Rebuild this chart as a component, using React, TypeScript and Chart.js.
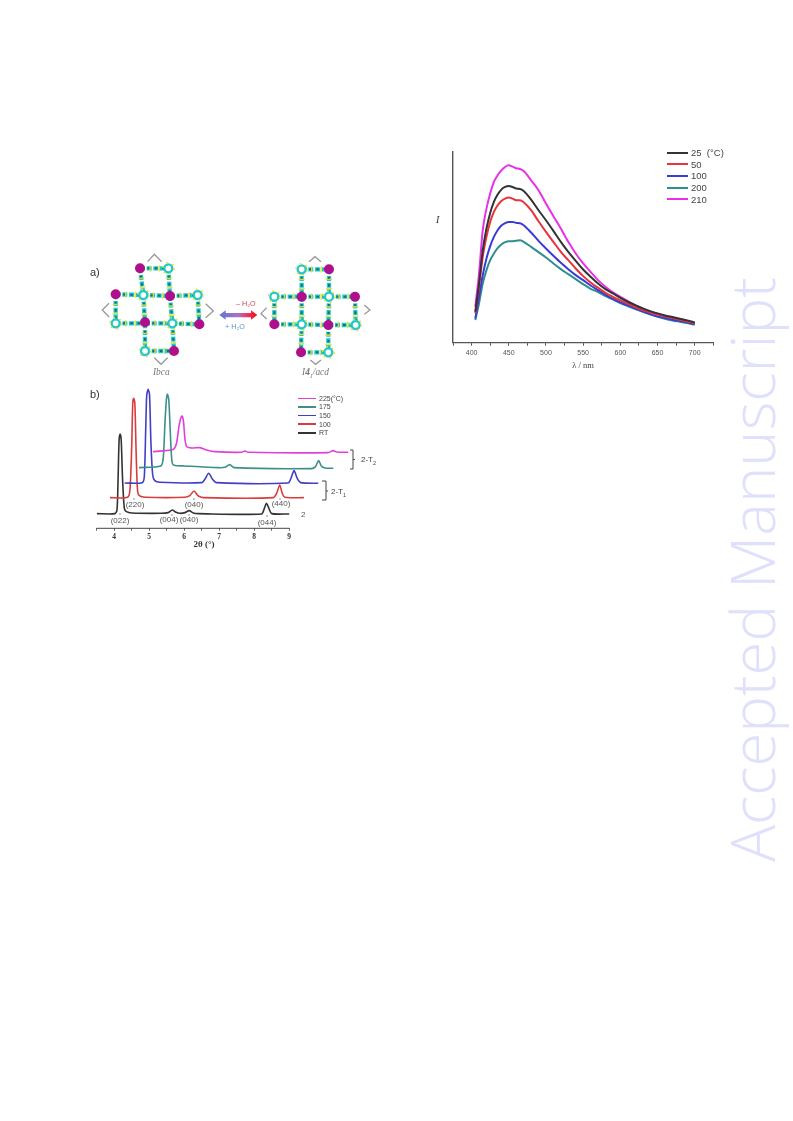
import React, { useEffect, useRef } from "react";
import { Chart, registerables } from "chart.js";

Chart.register(...registerables);

// ---------- Emission spectra (upper right panel) ----------
const wavelengths = [405, 410, 415, 420, 425, 430, 435, 440, 445, 450, 455, 460, 465, 470, 480, 490, 500, 510, 520, 530, 540, 550, 560, 570, 580, 590, 600, 610, 620, 630, 640, 650, 660, 670, 680, 690, 700];
const i25 = [93, 178, 278, 343, 390, 423, 445, 460, 468, 471, 468, 463, 462, 456, 430, 398, 368, 336, 303, 273, 246, 220, 198, 178, 161, 148, 135, 123, 113, 103, 95, 88, 82, 77, 72, 67, 61];
const i50 = [88, 168, 258, 318, 363, 393, 413, 426, 433, 436, 433, 428, 428, 422, 398, 365, 333, 303, 273, 248, 223, 200, 181, 165, 150, 138, 127, 117, 107, 98, 91, 85, 79, 74, 69, 64, 59];
const i100 = [73, 138, 203, 253, 290, 318, 338, 352, 359, 363, 363, 360, 359, 353, 331, 306, 283, 261, 240, 221, 203, 188, 172, 158, 144, 132, 121, 112, 103, 94, 86, 79, 74, 69, 65, 61, 56];
const i200 = [68, 118, 178, 218, 248, 268, 284, 295, 302, 305, 305, 306, 308, 303, 288, 272, 256, 238, 221, 206, 191, 176, 162, 152, 140, 130, 119, 110, 101, 93, 85, 78, 72, 67, 63, 59, 54];
const i210 = [108, 208, 338, 403, 448, 483, 503, 518, 528, 533, 529, 524, 522, 516, 488, 458, 418, 380, 343, 303, 268, 238, 213, 188, 168, 151, 138, 125, 113, 103, 94, 87, 80, 75, 70, 65, 59];
const emissionLabels = ["25  (°C)", "50", "100", "200", "210"];
const emissionColors = ["#333333", "#e8333a", "#3a3ad8", "#2f8f8f", "#e830e8"];
const emissionSeries = [i25, i50, i100, i200, i210];

// ---------- XRD patterns (panel b) ----------
const rtX = [3.5, 4.02, 4.08, 4.11, 4.14, 4.17, 4.2, 4.24, 4.29, 4.35, 4.5, 5.35, 5.54, 5.66, 5.75, 5.88, 6.02, 6.14, 6.26, 6.4, 8.21, 8.29, 8.35, 8.42, 8.5, 9.0];
const rtY = [44, 44, 55, 145, 265, 283, 265, 145, 60, 50, 46, 45, 47, 55, 49, 45, 47, 53, 46, 44, 43, 60, 75, 60, 44, 43];
const t100X = [3.88, 4.38, 4.45, 4.5, 4.53, 4.56, 4.59, 4.63, 4.67, 4.73, 4.88, 6.02, 6.16, 6.28, 6.4, 6.54, 8.54, 8.64, 8.73, 8.8, 8.88, 9.42];
const t100Y = [92, 93, 115, 245, 375, 390, 375, 215, 110, 97, 93, 93, 98, 112, 97, 92, 92, 105, 130, 105, 93, 92];
const t150X = [4.3, 4.8, 4.86, 4.9, 4.93, 4.97, 5.01, 5.05, 5.1, 5.16, 5.3, 6.5, 6.59, 6.7, 6.81, 6.92, 8.97, 9.05, 9.14, 9.23, 9.33, 9.83];
const t150Y = [136, 137, 155, 295, 400, 417, 400, 255, 160, 143, 138, 137, 147, 165, 147, 137, 136, 150, 173, 150, 137, 135];
const t175X = [4.71, 5.33, 5.4, 5.45, 5.49, 5.52, 5.56, 5.6, 5.65, 5.71, 6.02, 6.97, 7.16, 7.3, 7.43, 9.64, 9.75, 9.84, 9.92, 10.02, 10.26];
const t175Y = [182, 187, 210, 315, 385, 403, 385, 295, 200, 189, 187, 182, 183, 191, 182, 179, 185, 203, 187, 181, 180];
const t225X = [5.11, 5.45, 5.69, 5.78, 5.85, 5.9, 5.94, 5.98, 6.02, 6.07, 6.21, 6.45, 6.64, 6.88, 7.64, 7.73, 7.83, 10.11, 10.26, 10.35, 10.69];
const t225Y = [230, 233, 237, 255, 305, 330, 337, 320, 270, 245, 241, 242, 235, 230, 228, 232, 228, 227, 233, 229, 228];
const xrdLabels = ["225(°C)", "175", "150", "100", "RT"];
const xrdColors = ["#e040d8", "#3c9088", "#3f3fc8", "#d83c3c", "#333333"];
const xrdSeries: [number[], number[]][] = [[t225X, t225Y], [t175X, t175Y], [t150X, t150Y], [t100X, t100Y], [rtX, rtY]];
const xrdTickLabels = [4, 5, 6, 7, 8, 9];
const xrdAxisEnd = 9;
const reflections = [
  { t: "(022)", x: 120, y: 516.5 },
  { t: "(220)", x: 135, y: 501 },
  { t: "(004)", x: 169, y: 516 },
  { t: "(040)", x: 189, y: 516 },
  { t: "(040)", x: 194, y: 501 },
  { t: "(440)", x: 281, y: 500 },
  { t: "(044)", x: 267, y: 518.5 },
];
const reflectionTicks = [[120, 513], [134, 498], [172, 514], [189, 514], [194, 498], [280, 498], [267, 515]];

// ---------- Illustration (panel a), in a 3x sketch space ----------
const leftCells: number[][] = [[165, 70, 250, 70], [165, 70, 175, 150], [250, 70, 255, 153], [92, 148, 175, 150], [175, 150, 255, 153], [255, 153, 338, 150], [92, 148, 92, 235], [338, 150, 343, 238], [92, 235, 180, 235], [180, 235, 262, 235], [262, 235, 343, 238], [175, 150, 180, 235], [255, 153, 262, 235], [180, 235, 180, 318], [262, 235, 267, 318], [180, 318, 267, 318]];
const leftHubs = [[165, 70], [92, 148], [255, 153], [180, 232], [343, 238], [267, 318]];
const leftRings = [[250, 70], [175, 150], [338, 150], [92, 235], [262, 235], [180, 318]];
const rightCells: number[][] = [[650, 73, 732, 73], [650, 73, 650, 155], [732, 73, 732, 155], [568, 155, 650, 155], [650, 155, 732, 155], [732, 155, 810, 155], [568, 155, 568, 238], [810, 155, 812, 240], [568, 238, 650, 238], [650, 238, 730, 240], [730, 240, 812, 240], [650, 155, 650, 238], [732, 155, 730, 240], [650, 238, 648, 322], [730, 240, 730, 322], [648, 322, 730, 322]];
const rightHubs = [[732, 73], [650, 155], [810, 155], [568, 238], [730, 240], [648, 322]];
const rightRings = [[650, 73], [568, 155], [732, 155], [650, 238], [812, 240], [730, 322]];
const chevrons = ["188,50 208,28 230,50", "72,175 52,195 72,216", "362,176 385,198 362,218", "208,338 228,358 248,338", "672,50 690,35 708,50", "545,188 528,206 545,222", "838,180 855,195 838,208", "676,345 692,358 708,345"];

const sans = "'Liberation Sans', Arial, sans-serif";
const serif = "'Liberation Serif', 'Times New Roman', serif";

function Emission() {
  const ref = useRef<HTMLCanvasElement>(null);
  useEffect(() => {
    const chart = new Chart(ref.current!, {
      type: "line",
      data: {
        labels: wavelengths,
        datasets: emissionSeries.map((s, k) => ({
          label: emissionLabels[k],
          data: s.map((v, i) => ({ x: wavelengths[i], y: v })),
          borderColor: emissionColors[k],
          borderWidth: 2,
          pointRadius: 0,
          cubicInterpolationMode: "monotone" as const,
        })),
      },
      options: {
        animation: false,
        responsive: false,
        layout: { padding: { top: 7, right: 16.7, left: 0, bottom: 9 } },
        plugins: { legend: { display: false }, tooltip: { enabled: false } },
        scales: {
          x: {
            type: "linear",
            min: 375,
            max: 725,
            afterFit: (s: any) => { s.height = 28.3; },
            border: { color: "#555", width: 1.2 },
            grid: { drawOnChartArea: false, drawTicks: true, tickLength: 3, color: "#555", lineWidth: 1 },
            ticks: {
              stepSize: 25,
              autoSkip: false,
              maxRotation: 0,
              padding: 3,
              color: "#555",
              font: { family: sans, size: 7 },
              callback: (v: any) => (Number(v) % 50 === 0 && Number(v) >= 400 && Number(v) <= 700 ? String(v) : ""),
            },
            title: { display: true, text: "λ / nm", color: "#444", padding: { top: 3, bottom: 0 }, font: { family: serif, size: 8.5 } },
          },
          y: {
            min: 0,
            max: 573,
            afterFit: (s: any) => { s.width = 23; },
            border: { color: "#555", width: 1.4 },
            grid: { drawOnChartArea: false, drawTicks: false },
            ticks: { display: false },
          },
        },
      },
    });
    return () => chart.destroy();
  }, []);
  return <canvas ref={ref} width={300} height={235} style={{ position: "absolute", left: 430, top: 145, filter: "blur(0.6px)" }} />;
}

const partialAxisLine = {
  id: "partialAxisLine",
  afterDraw(chart: any) {
    const s = chart.scales.x;
    const ctx = chart.ctx;
    ctx.save();
    ctx.strokeStyle = "#444";
    ctx.lineWidth = 1;
    ctx.beginPath();
    ctx.moveTo(s.getPixelForValue(s.min), s.top);
    ctx.lineTo(s.getPixelForValue(xrdAxisEnd), s.top);
    ctx.stroke();
    ctx.restore();
  },
};

function Xrd() {
  const ref = useRef<HTMLCanvasElement>(null);
  useEffect(() => {
    const chart = new Chart(ref.current!, {
      type: "line",
      data: {
        datasets: xrdSeries.map(([xs, ys], k) => ({
          label: xrdLabels[k],
          data: xs.map((x, i) => ({ x, y: ys[i] })),
          borderColor: xrdColors[k],
          borderWidth: 1.6,
          pointRadius: 0,
          tension: 0.25,
        })),
      },
      options: {
        animation: false,
        responsive: false,
        layout: { padding: { top: 5, right: 11.3, left: 6.7, bottom: 0 } },
        plugins: { legend: { display: false }, tooltip: { enabled: false } },
        scales: {
          x: {
            type: "linear",
            min: 3.5,
            max: 10.7,
            afterFit: (s: any) => { s.height = 21.7; },
            border: { display: false },
            grid: {
              drawOnChartArea: false,
              drawTicks: true,
              tickLength: 2.5,
              lineWidth: 0.8,
              tickColor: (c: any) => (c.tick && c.tick.value > xrdAxisEnd ? "rgba(0,0,0,0)" : "#444"),
            },
            ticks: {
              stepSize: 0.5,
              autoSkip: false,
              maxRotation: 0,
              padding: 2,
              color: "#333",
              font: { family: serif, size: 7.5, weight: "bold" },
              callback: (v: any) => (xrdTickLabels.includes(Number(v)) ? String(v) : ""),
            },
          },
          y: { display: false, min: 0, max: 445 },
        },
      },
      plugins: [partialAxisLine],
    });
    return () => chart.destroy();
  }, []);
  return <canvas ref={ref} width={270} height={175} style={{ position: "absolute", left: 90, top: 375, filter: "blur(0.6px)" }} />;
}

function Cells({ cells, hubs, rings }: { cells: number[][]; hubs: number[][]; rings: number[][] }) {
  return (
    <g>
      {cells.map((c, i) => (
        <g key={i}>
          <line x1={c[0]} y1={c[1]} x2={c[2]} y2={c[3]} stroke="#20c8cc" strokeWidth={13} strokeDasharray="15 5" />
          <line x1={c[0]} y1={c[1]} x2={c[2]} y2={c[3]} stroke="#1d6d70" strokeWidth={6} strokeDasharray="8 14" />
          <line x1={c[0]} y1={c[1]} x2={c[2]} y2={c[3]} stroke="#e6e030" strokeWidth={19} strokeDasharray="4 24" opacity={0.9} />
        </g>
      ))}
      {rings.map((r, i) => (
        <g key={i}>
          <circle cx={r[0]} cy={r[1]} r={12} fill="#fff" stroke="#20c8cc" strokeWidth={7} />
          <circle cx={r[0]} cy={r[1]} r={17} fill="none" stroke="#e6e030" strokeWidth={5} strokeDasharray="5 13" />
        </g>
      ))}
      {hubs.map((h, i) => (
        <circle key={i} cx={h[0]} cy={h[1]} r={15} fill="#b00f8c" />
      ))}
    </g>
  );
}

function Illustration() {
  return (
    <svg width={290} height={140} viewBox="0 0 870 420" style={{ position: "absolute", left: 85, top: 245, filter: "blur(0.7px)" }}>
      <defs>
        <linearGradient id="arrow" x1="0" x2="1" y1="0" y2="0">
          <stop offset="0" stopColor="#5a78d8" />
          <stop offset="0.5" stopColor="#b070c0" />
          <stop offset="0.75" stopColor="#f03060" />
          <stop offset="1" stopColor="#f01010" />
        </linearGradient>
      </defs>
      <Cells cells={leftCells} hubs={leftHubs} rings={leftRings} />
      <Cells cells={rightCells} hubs={rightHubs} rings={rightRings} />
      {chevrons.map((p, i) => (
        <polyline key={i} points={p} fill="none" stroke="#999" strokeWidth={4} />
      ))}
      <polygon points="403,210 422,196 422,204 498,204 498,196 517,210 498,224 498,217 422,217 422,224" fill="url(#arrow)" />
    </svg>
  );
}

const abs = (left: number, top: number, extra: React.CSSProperties = {}): React.CSSProperties => ({
  position: "absolute",
  left,
  top,
  lineHeight: 1,
  whiteSpace: "pre",
  ...extra,
});

export default function App() {
  return (
    <div style={{ position: "absolute", left: 0, top: 0, width: 793, height: 1121, overflow: "hidden", background: "#fff" }}>
      {/* Watermark */}
      <div
        style={{
          position: "absolute",
          left: 783,
          top: 862,
          transformOrigin: "0 0",
          transform: "rotate(-90deg) translateY(-100%)",
          fontFamily: "'Open Sans', sans-serif",
          fontWeight: 300,
          fontSize: 61.6,
          lineHeight: "1",
          color: "#dfe0fb",
          whiteSpace: "pre",
        }}
      >
        Accepted Manuscript
      </div>

      <Illustration />
      <Emission />
      <Xrd />

      <div style={{ filter: "blur(0.4px)" }}>
        {/* Emission panel text */}
        <span style={abs(436, 215, { fontFamily: serif, fontStyle: "italic", fontSize: 10, color: "#333" })}>I</span>
        {emissionLabels.map((t, i) => (
          <React.Fragment key={t}>
            <div style={{ position: "absolute", left: 667, top: 151.7 + i * 11.65, width: 21, height: 2, background: emissionColors[i] }} />
            <span style={abs(691, 148 + i * 11.65, { fontFamily: sans, fontSize: 9.5, color: "#444" })}>{t}</span>
          </React.Fragment>
        ))}

        {/* Panel a text */}
        <span style={abs(90, 267, { fontFamily: sans, fontSize: 11, color: "#333" })}>a)</span>
        <span style={abs(236, 300.4, { fontFamily: sans, fontSize: 7.2, color: "#d04858" })}>– H₂O</span>
        <span style={abs(225, 323, { fontFamily: sans, fontSize: 7.2, color: "#5a90d0" })}>+ H₂O</span>
        <span style={abs(153, 368, { fontFamily: serif, fontStyle: "italic", fontSize: 9.4, color: "#777" })}>Ibca</span>
        <span style={abs(302, 368, { fontFamily: serif, fontStyle: "italic", fontSize: 9.4, color: "#777" })}>
          I<b>4</b>
          <sub style={{ fontSize: 6, lineHeight: 0 }}>1</sub>/acd
        </span>

        {/* Panel b text */}
        <span style={abs(90, 388.5, { fontFamily: sans, fontSize: 11, color: "#333" })}>b)</span>
        {xrdLabels.map((t, i) => (
          <React.Fragment key={t}>
            <div style={{ position: "absolute", left: 298, top: 397.6 + i * 8.6, width: 18, height: 1.5, background: xrdColors[i] }} />
            <span style={abs(319, 394.8 + i * 8.6, { fontFamily: sans, fontSize: 7, color: "#444" })}>{t}</span>
          </React.Fragment>
        ))}
        {reflections.map((r, i) => (
          <span key={i} style={abs(r.x, r.y, { fontFamily: sans, fontSize: 8, color: "#555", transform: "translateX(-50%)" })}>
            {r.t}
          </span>
        ))}
        <span style={abs(301, 511, { fontFamily: sans, fontSize: 8, color: "#555" })}>2</span>
        <span style={abs(331, 487.5, { fontFamily: sans, fontSize: 8, color: "#444" })}>
          2-T<sub style={{ fontSize: 5.5, lineHeight: 0 }}>1</sub>
        </span>
        <span style={abs(361, 456, { fontFamily: sans, fontSize: 8, color: "#444" })}>
          2-T<sub style={{ fontSize: 5.5, lineHeight: 0 }}>2</sub>
        </span>
        <span style={abs(204, 539.8, { fontFamily: serif, fontWeight: "bold", fontSize: 9, color: "#333", transform: "translateX(-50%)" })}>2θ (°)</span>
        <svg width={793} height={600} style={{ position: "absolute", left: 0, top: 0 }}>
          <polyline points="322,481 326,481 326,500 322,500" fill="none" stroke="#444" strokeWidth={1} />
          <line x1={326} y1={491} x2={328} y2={491} stroke="#444" strokeWidth={1} />
          <polyline points="350,450 353,450 353,469 350,469" fill="none" stroke="#444" strokeWidth={1} />
          <line x1={353} y1={459.5} x2={355} y2={459.5} stroke="#444" strokeWidth={1} />
          {reflectionTicks.map((m, i) => (
            <line key={i} x1={m[0]} y1={m[1]} x2={m[0]} y2={m[1] + 2} stroke="#666" strokeWidth={0.7} />
          ))}
        </svg>
      </div>
    </div>
  );
}
